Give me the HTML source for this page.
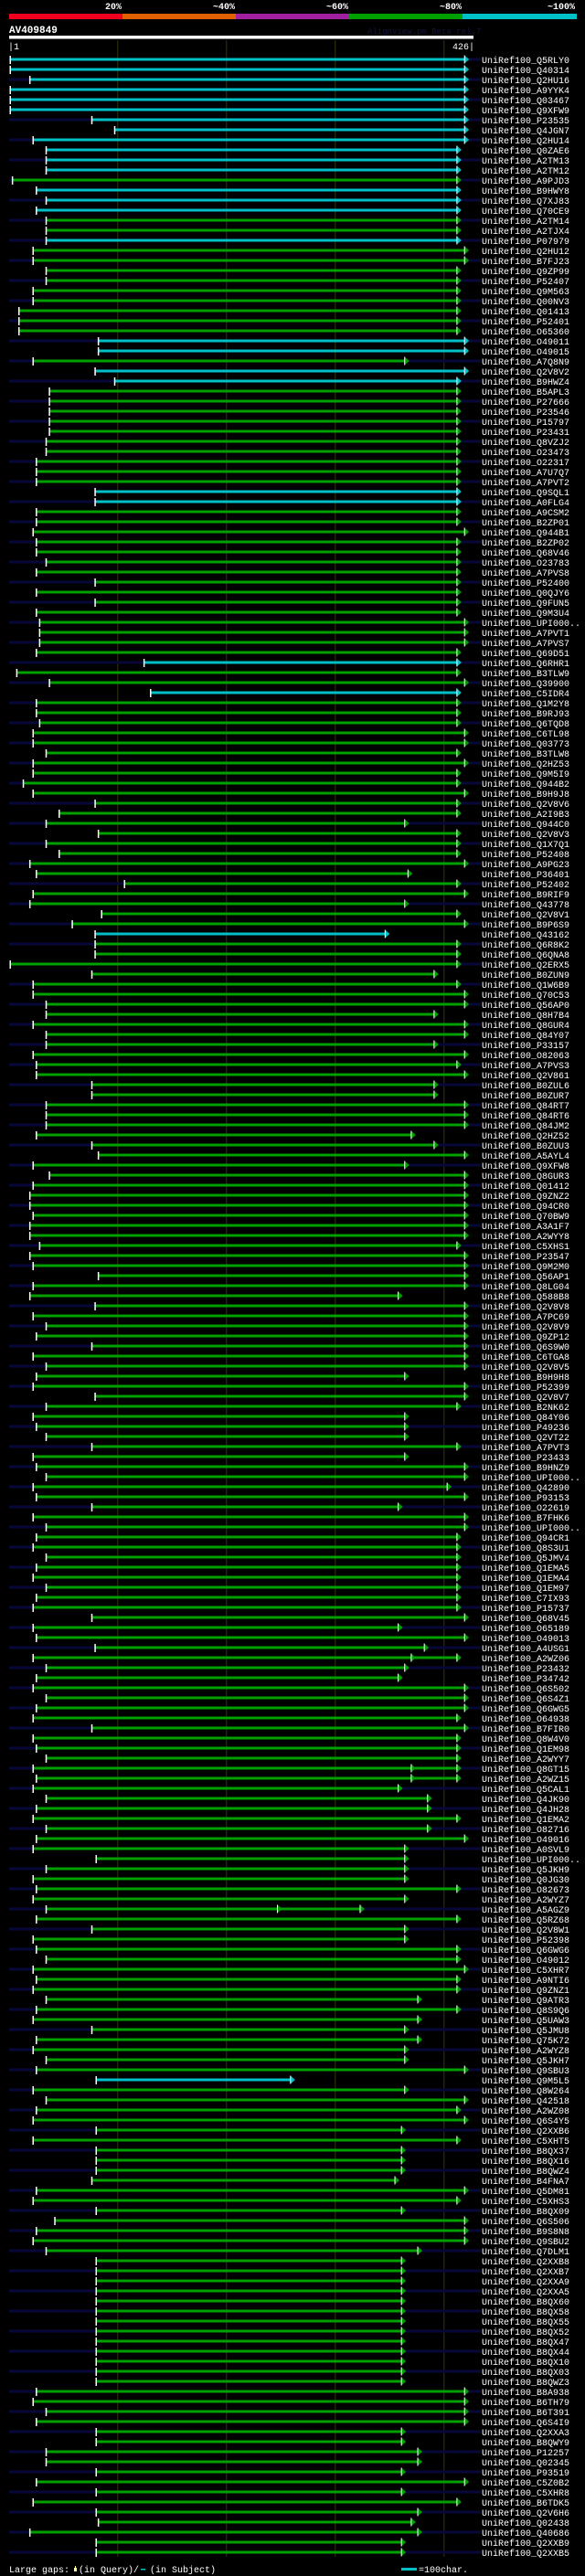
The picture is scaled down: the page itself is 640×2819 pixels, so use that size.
<!DOCTYPE html>
<html><head><meta charset="utf-8"><style>
html,body{margin:0;padding:0;background:#000;}
svg{display:block;}
text{font-family:"Liberation Mono",monospace;}
</style></head>
<body>
<svg id="chart" width="640" height="2819" viewBox="0 0 640 2819" xmlns="http://www.w3.org/2000/svg">
<rect x="0" y="0" width="640" height="2819" fill="#000"/>
<g>
<text x="133" y="10" fill="#fff" font-size="10" font-weight="bold" text-anchor="end">20%</text>
<text x="257" y="10" fill="#fff" font-size="10" font-weight="bold" text-anchor="end">~40%</text>
<text x="381" y="10" fill="#fff" font-size="10" font-weight="bold" text-anchor="end">~60%</text>
<text x="505" y="10" fill="#fff" font-size="10" font-weight="bold" text-anchor="end">~80%</text>
<text x="629" y="10" fill="#fff" font-size="10" font-weight="bold" text-anchor="end">~100%</text>
<rect x="10" y="15" width="124" height="6" fill="#f0001e"/>
<rect x="134" y="15" width="124" height="6" fill="#e06000"/>
<rect x="258" y="15" width="124" height="6" fill="#a020a0"/>
<rect x="382" y="15" width="124" height="6" fill="#00a000"/>
<rect x="506" y="15" width="125" height="6" fill="#00c0c8"/>
</g>
<text x="10" y="36" fill="#fff" font-size="11" font-weight="bold">AV409849</text>
<text x="402" y="37" fill="#14143c" font-size="9">AlignView.pm Beta rel.7</text>
<rect x="10" y="39" width="508" height="3.5" fill="#fff"/>
<text x="9" y="54" fill="#fff" font-size="10">|1</text>
<text x="519" y="54" fill="#fff" font-size="10" text-anchor="end">426|</text>
<g id="grid"></g>
<g id="rows"></g>
<g>
<text x="10" y="2815" fill="#fff" font-size="10">Large gaps:</text>
<rect x="81" y="2810" width="3" height="4" fill="#ffff80"/>
<rect x="82" y="2808" width="1" height="2" fill="#ffff80"/>
<text x="86" y="2815" fill="#fff" font-size="10">(in Query)/</text>
<rect x="154" y="2811" width="5" height="1.5" fill="#00c0c8"/>
<text x="164" y="2815" fill="#fff" font-size="10">(in Subject)</text>
<rect x="439" y="2810" width="17" height="3" fill="#00c0c8"/>
<text x="458" y="2815" fill="#fff" font-size="10">=100char.</text>
</g>
</svg>
<script>
const names = ["Q5RLY0","Q40314","Q2HU16","A9YYK4","Q03467","Q9XFW9","P23535","Q4JGN7","Q2HU14","Q0ZAE6","A2TM13","A2TM12","A9PJD3","B9HWY8","Q7XJ83","Q70CE9","A2TM14","A2TJX4","P07979","Q2HU12","B7FJ23","Q9ZP99","P52407","Q9M563","Q00NV3","Q01413","P52401","O65360","O49011","O49015","A7Q8N9","Q2V8V2","B9HWZ4","B5APL3","P27666","P23546","P15797","P23431","Q8VZJ2","O23473","O22317","A7U7Q7","A7PVT2","Q9SQL1","A0FLG4","A9CSM2","B2ZP01","Q944B1","B2ZP02","Q68V46",
"O23783","A7PVS8","P52400","Q0QJY6","Q9FUN5","Q9M3U4","UPI000..","A7PVT1","A7PVS7","Q69D51","Q6RHR1","B3TLW9","Q39900","C5IDR4","Q1M2Y8","B9RJ93","Q6TQD8","C6TL98","Q03773","B3TLW8","Q2HZ53","Q9M5I9","Q944B2","B9H9J8","Q2V8V6","A2I9B3","Q944C0","Q2V8V3","Q1X7Q1","P52408","A9PG23","P36401","P52402","B9RIF9","Q43778","Q2V8V1","B9P6S9","Q43162","Q6R8K2","Q6QNA8","Q2ERX5","B0ZUN9","Q1W6B9","Q70C53","Q56AP0","Q8H7B4","Q8GUR4","Q84Y07","P33157","O82063",
"A7PVS3","Q2V861","B0ZUL6","B0ZUR7","Q84RT7","Q84RT6","Q84JM2","Q2HZ52","B0ZUU3","A5AYL4","Q9XFW8","Q8GUR3","Q01412","Q9ZNZ2","Q94CR0","Q70BW9","A3A1F7","A2WYY8","C5XHS1","P23547","Q9M2M0","Q56AP1","Q8LG04","Q588B8","Q2V8V8","A7PC69","Q2V8V9","Q9ZP12","Q6S9W0","C6TGA8","Q2V8V5","B9H9H8","P52399","Q2V8V7","B2NK62","Q84Y06","P49236","Q2VT22","A7PVT3","P23433","B9HNZ9","UPI000..","Q42890","P93153","O22619","B7FHK6","UPI000..","Q94CR1","Q8S3U1","Q5JMV4",
"Q1EMA5","Q1EMA4","Q1EM97","C7IX93","P15737","Q68V45","O65189","O49013","A4USG1","A2WZ06","P23432","P34742","Q6S502","Q6S4Z1","Q6GWG5","O64938","B7FIR0","Q8W4V0","Q1EM98","A2WYY7","Q8GT15","A2WZ15","Q5CAL1","Q4JK90","Q4JH28","Q1EMA2","O82716","O49016","A0SVL9","UPI000..","Q5JKH9","Q0JG30","O82673","A2WYZ7","A5AGZ9","Q5RZ68","Q2V8W1","P52398","Q6GWG6","O49012","C5XHR7","A9NTI6","Q9ZNZ1","Q9ATR3","Q8S9Q6","Q5UAW3","Q5JMU8","Q75K72","A2WYZ8","Q5JKH7",
"Q9SBU3","Q9M5L5","Q8W264","Q42518","A2WZ08","Q6S4Y5","Q2XXB6","C5XHT5","B8QX37","B8QX16","B8QWZ4","B4FNA7","Q5DM81","C5XHS3","B8QX09","Q6S506","B9S8N8","Q9SBU2","Q7DLM1","Q2XXB8","Q2XXB7","Q2XXA9","Q2XXA5","B8QX60","B8QX58","B8QX55","B8QX52","B8QX47","B8QX44","B8QX10","B8QX03","B8QWZ3","B8A938","B6TH79","B6T391","Q6S4I9","Q2XXA3","B8QWY9","P12257","Q02345","P93519","C5Z0B2","C5XHR8","B6TDK5","Q2V6H6","Q02438","Q40686","Q2XXB9","Q2XXB5"];
const starts = [1,1,19,1,1,1,76,97,22,34,34,34,3,25,34,25,34,34,34,22,22,34,34,22,22,
9,9,9,82,82,22,79,97,37,37,37,37,37,34,34,25,25,25,79,79,25,25,22,25,25,
34,25,79,25,79,25,28,28,28,25,124,7,37,130,25,25,28,22,22,34,22,22,13,22,79,
46,34,82,34,46,19,25,106,22,19,85,58,79,79,79,1,76,22,22,34,34,22,34,34,22,
25,25,76,76,34,34,34,25,76,82,22,37,22,19,19,22,19,19,28,19,22,82,22,19,79,
22,34,25,76,22,34,25,22,79,34,22,25,34,76,22,25,34,22,25,76,22,34,25,22,34,
25,22,34,25,22,76,22,25,79,22,34,25,22,34,25,22,76,22,25,34,22,25,22,34,25,
22,34,25,22,80,34,22,25,22,34,25,76,22,25,34,22,25,22,34,25,22,76,25,22,34,
25,80,22,34,25,22,80,22,80,80,80,76,25,22,80,42,25,22,34,80,80,80,80,80,80,
80,80,80,80,80,80,80,25,22,34,25,80,80,34,34,80,25,80,22,80,82,19,80,80];
const ends = [423,423,423,423,423,423,423,423,423,416,416,416,416,416,416,416,416,416,416,423,423,416,416,416,416,416,416,416,423,423,368,423,416,416,416,416,416,416,416,416,416,416,416,416,416,416,416,423,416,416,
416,416,416,416,416,416,423,423,423,416,416,416,423,416,416,416,416,423,423,416,423,416,416,423,416,416,368,416,416,416,423,371,416,423,368,416,423,350,416,416,416,395,416,423,423,395,423,423,395,423,
416,423,395,395,423,423,423,374,395,423,368,423,423,423,423,423,423,423,416,423,423,423,423,362,423,423,423,423,423,423,423,368,423,423,416,368,368,368,416,368,423,423,407,423,362,423,423,416,416,416,
416,416,416,416,416,423,362,423,386,416,368,362,423,423,423,416,423,416,416,416,416,416,362,389,389,416,389,423,368,368,368,368,416,368,327,416,368,368,416,416,423,416,416,380,416,380,368,380,368,368,
423,263,368,423,416,423,365,416,365,365,365,359,423,416,365,423,423,423,380,365,365,365,365,365,365,365,365,365,365,365,365,365,423,423,423,423,365,365,380,380,365,423,365,416,380,374,380,365,365];
const cyanRows = [0,1,2,3,4,5,6,7,8,9,10,11,13,14,15,18,28,29,31,32,43,44,60,63,87,201];
const secondArrowRows = [159,170,171,184];
const secondArrowEnds = [374,374,374,251];

const NS = "http://www.w3.org/2000/svg";
const xs = r => 11 + (r - 1) * 1.19;
const ys = i => 65 + 11 * i;
const GREEN = "#00a000", CYAN = "#00c0c8";
function mk(tag, attrs, parent) {
  const e = document.createElementNS(NS, tag);
  for (const k in attrs) e.setAttribute(k, attrs[k]);
  parent.appendChild(e);
  return e;
}
const grid = document.getElementById("grid");
[100, 200, 300, 400].forEach(t => {
  const l = mk("rect", {x: xs(t) - 0.5, y: 44, width: 1, height: 2754, fill: "#34340f"}, grid);
  
  
});
const rows = document.getElementById("rows");
function arrow(g, xe, y, col) {
  const a = mk("polygon", {points: (xe - 5) + "," + (y - 4.5) + " " + (xe - 5) + "," + (y + 4.5) + " " + xe + "," + y, fill: col}, g);
  
  
  const w = mk("rect", {x: xe - 5.5, y: y - 4.5, width: 1, height: 9, fill: "#fff"}, g);
  
  
}
names.forEach((n, i) => {
  const y = ys(i);
  const g = mk("g", {}, rows);
  
  
  const col = cyanRows.includes(i) ? CYAN : GREEN;
  if (i % 2 === 0) {
    const z = mk("rect", {x: 10, y: y - 1.5, width: 516, height: 3, fill: "#07073a"}, g);
    
    
  }
  const x0 = xs(starts[i]), x1 = xs(ends[i]);
  const b = mk("rect", {x: x0, y: y - 1.5, width: Math.max(0, x1 - 5 - x0), height: 3, fill: col}, g);
  
  
  const t = mk("rect", {x: x0 - 0.5, y: y - 4, width: 1.5, height: 9, fill: "#fff"}, g);
  
  
  arrow(g, x1, y, col);
  const k = secondArrowRows.indexOf(i);
  if (k >= 0) arrow(g, xs(secondArrowEnds[k]), y, col);
  const tx = mk("text", {x: 527, y: y + 4, fill: "#fff", "font-size": 10}, g);
  
  
  tx.textContent = "UniRef100_" + n;
});
</script>
</body></html>
